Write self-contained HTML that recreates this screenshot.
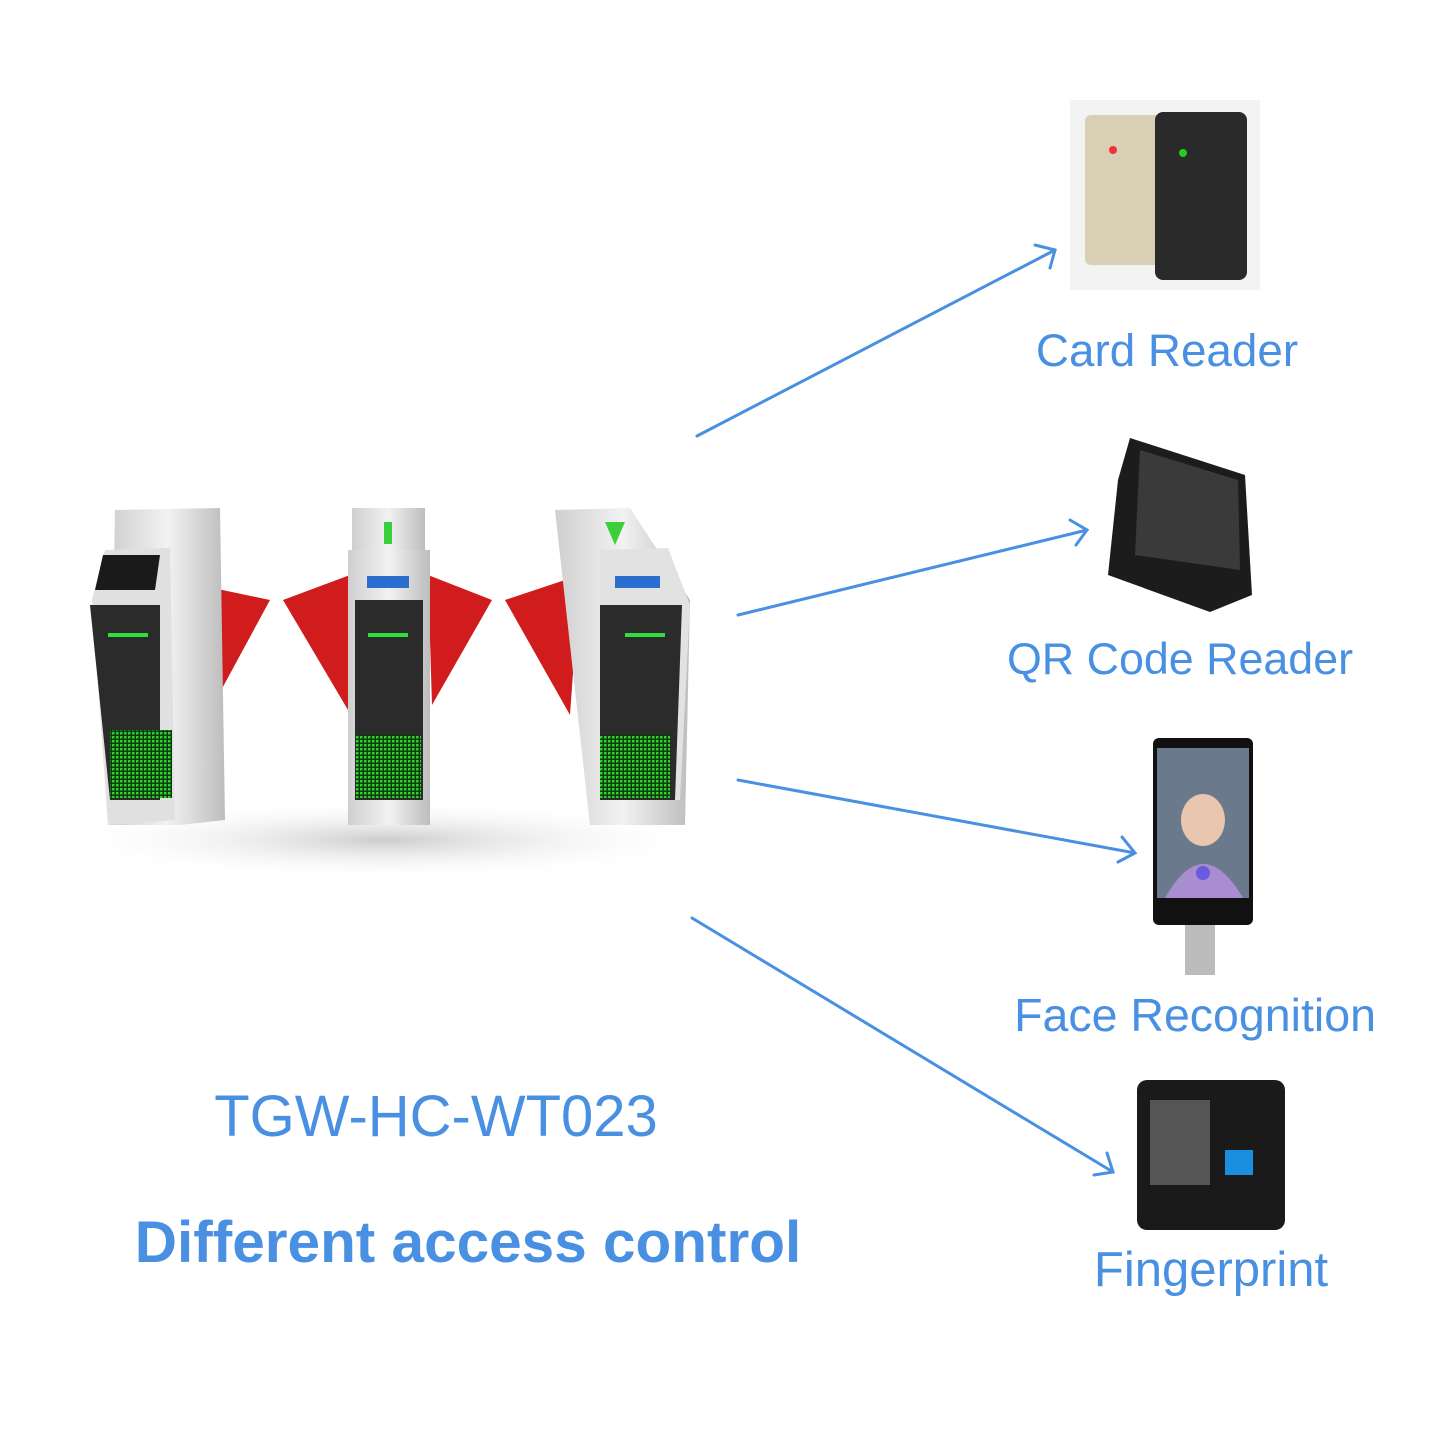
<!DOCTYPE html>
<html><head><meta charset="utf-8"><style>
html,body{margin:0;padding:0;background:#fff;}
body{width:1440px;height:1440px;position:relative;overflow:hidden;font-family:"Liberation Sans","DejaVu Sans",sans-serif;}
.t{position:absolute;color:#4a90e2;white-space:nowrap;transform:translateX(-50%);line-height:1;}
</style></head><body>
<svg width="1440" height="1440" style="position:absolute;left:0;top:0">
<defs>
<linearGradient id="sv" x1="0" x2="1"><stop offset="0" stop-color="#cfcfcf"/><stop offset=".5" stop-color="#f2f2f2"/><stop offset="1" stop-color="#bdbdbd"/></linearGradient>
<radialGradient id="sh" cx=".5" cy=".5" r=".5"><stop offset="0" stop-color="#ccc"/><stop offset="1" stop-color="#fff" stop-opacity="0"/></radialGradient>
<pattern id="gd" width="4" height="4" patternUnits="userSpaceOnUse"><rect width="4" height="4" fill="#0a3a0a"/><rect width="2.5" height="2.5" fill="#2ed12e"/></pattern>
</defs>
<ellipse cx="385" cy="840" rx="330" ry="40" fill="url(#sh)"/>
<path d="M175 580 L270 600 L205 720 Z" fill="#d01c1c"/>
<path d="M283 600 L350 575 L348 710 Z" fill="#d01c1c"/>
<path d="M428 575 L492 600 L432 705 Z" fill="#d01c1c"/>
<path d="M505 600 L580 575 L570 715 Z" fill="#d01c1c"/>
<path d="M115 510 L220 508 L225 820 L180 825 L110 825 Z" fill="url(#sv)"/>
<path d="M105 550 L170 548 L175 820 L108 825 L92 600 Z" fill="#e0e0e0"/>
<path d="M90 605 L160 605 L160 800 L110 800 Z" fill="#2b2b2b"/>
<rect x="110" y="730" width="62" height="68" fill="url(#gd)"/>
<rect x="108" y="633" width="40" height="4" fill="#2fe03a"/>
<path d="M103 555 L160 555 L155 590 L95 590 Z" fill="#1a1a1a"/>
<rect x="352" y="508" width="73" height="60" fill="url(#sv)"/>
<rect x="348" y="550" width="82" height="275" fill="url(#sv)"/>
<rect x="355" y="600" width="68" height="200" fill="#2b2b2b"/>
<rect x="356" y="735" width="65" height="63" fill="url(#gd)"/>
<rect x="368" y="633" width="40" height="4" fill="#2fe03a"/>
<rect x="367" y="576" width="42" height="12" fill="#2a6fd0"/>
<rect x="384" y="522" width="8" height="22" fill="#3bd03b"/>
<path d="M555 510 L630 508 L690 600 L685 825 L590 825 Z" fill="url(#sv)"/>
<path d="M600 550 L668 548 L690 605 L680 800 L600 800 Z" fill="#e2e2e2"/>
<path d="M600 605 L682 605 L675 800 L600 800 Z" fill="#2b2b2b"/>
<rect x="600" y="735" width="70" height="63" fill="url(#gd)"/>
<rect x="625" y="633" width="40" height="4" fill="#2fe03a"/>
<rect x="615" y="576" width="45" height="12" fill="#2a6fd0"/>
<path d="M605 522 L625 522 L615 545 Z" fill="#3bd03b"/>
<rect x="1070" y="100" width="190" height="190" fill="#f3f3f3"/>
<rect x="1085" y="115" width="80" height="150" rx="6" fill="#d8cfb5"/>
<rect x="1155" y="112" width="92" height="168" rx="8" fill="#2a2a2a"/>
<circle cx="1113" cy="150" r="4" fill="#e33"/>
<circle cx="1183" cy="153" r="4" fill="#2c2"/>
<path d="M1130 438 L1245 475 L1252 595 L1210 612 L1108 575 L1118 480 Z" fill="#1c1c1c"/>
<path d="M1140 450 L1238 480 L1240 570 L1135 555 Z" fill="#3a3a3a"/>
<rect x="1185" y="920" width="30" height="55" fill="#bbb"/>
<rect x="1153" y="738" width="100" height="187" rx="6" fill="#111"/>
<rect x="1157" y="748" width="92" height="150" fill="#6a7a8c"/>
<ellipse cx="1203" cy="820" rx="22" ry="26" fill="#e9c6ae"/>
<path d="M1165 898 Q1203 830 1243 898 Z" fill="#a88ed0"/>
<circle cx="1203" cy="873" r="7" fill="#6a5ae0"/>
<rect x="1137" y="1080" width="148" height="150" rx="10" fill="#1a1a1a"/>
<rect x="1150" y="1100" width="60" height="85" fill="#555"/>
<rect x="1225" y="1150" width="28" height="25" fill="#1a8fe0"/>
<g stroke="#4a90e2" stroke-width="3" fill="none" stroke-linecap="round">
<line x1="697" y1="436" x2="1055" y2="250"/><polyline points="1035,245 1055,250 1050,268"/>
<line x1="738" y1="615" x2="1087" y2="530"/><polyline points="1070,520 1087,530 1076,545"/>
<line x1="738" y1="780" x2="1135" y2="853"/><polyline points="1122,837 1135,853 1118,862"/>
<line x1="692" y1="918" x2="1113" y2="1172"/><polyline points="1107,1153 1113,1172 1094,1175"/>
</g>
</svg>
<div class="t" style="left:1167px;top:328px;font-size:45.8px;">Card Reader</div>
<div class="t" style="left:1180px;top:637px;font-size:44.8px;">QR Code Reader</div>
<div class="t" style="left:1195px;top:992px;font-size:46.5px;">Face Recognition</div>
<div class="t" style="left:1211px;top:1246px;font-size:49px;">Fingerprint</div>
<div class="t" style="left:436px;top:1088px;font-size:58px;">TGW-HC-WT023</div>
<div class="t" style="left:468px;top:1214px;font-size:58.5px;font-weight:bold;">Different access control</div>
</body></html>
